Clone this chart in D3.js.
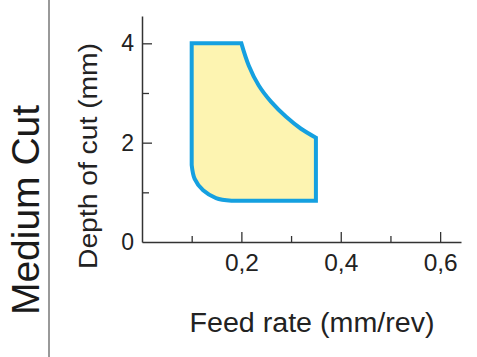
<!DOCTYPE html>
<html>
<head>
<meta charset="utf-8">
<script src="https://cdn.jsdelivr.net/npm/d3@7"></script>
<style>
  html, body { margin: 0; padding: 0; background: #fff; }
  svg { display: block; font-family: "Liberation Sans", Arial, sans-serif; }
</style>
</head>
<body>
<svg id="chart" width="477" height="357"></svg>
<script>
// ---- data ----
const xTickMajor = [0.2, 0.4, 0.6];
const xTickMinor = [0.1, 0.3, 0.5];
const xTickLabels = ["0,2", "0,4", "0,6"];
const yTickMajor = [0, 2, 4];
const yTickMinor = [1, 3];
const yTickLabels = ["0", "2", "4"];

// working-range boundary (feed mm/rev, depth mm)
const topFeed = [0.1, 0.2];
const topDepth = [4, 4];
const curveFeed = [0.2, 0.215, 0.235, 0.26, 0.29, 0.32, 0.35];
const curveDepth = [4, 3.55, 3.15, 2.82, 2.52, 2.28, 2.1];
const rightFeed = [0.35, 0.35, 0.18];
const rightDepth = [2.1, 0.83, 0.83];
const cornerFeed = [0.18, 0.149, 0.123, 0.106, 0.1];
const cornerDepth = [0.83, 0.885, 1.04, 1.27, 1.55];

const title = "Medium Cut";
const xTitle = "Feed rate (mm/rev)";
const yTitle = "Depth of cut (mm)";

// ---- drawing ----
const svg = d3.select("#chart");
const x = d3.scaleLinear().domain([0, 0.642]).range([142, 461]);
const y = d3.scaleLinear().domain([0, 4.55]).range([242, 16]);

const axisColor = "#333";
const textColor = "#222";

// separator line
svg.append("line").attr("x1", 49).attr("x2", 49).attr("y1", 0).attr("y2", 357)
  .attr("stroke", "#555").attr("stroke-width", 1.2);

// title
svg.append("text")
  .attr("transform", "translate(39,210) rotate(-90)")
  .attr("text-anchor", "middle")
  .attr("font-size", 39).attr("fill", "#1a1a1a")
  .text(title);

// region shape
const zip = (a, b) => a.map((v, i) => [x(v), y(b[i])]);
const lin = d3.line();
const cr = d3.line().curve(d3.curveCatmullRom.alpha(0.5));
const parts = [
  lin(zip(topFeed, topDepth)),
  cr(zip(curveFeed, curveDepth)),
  lin(zip(rightFeed, rightDepth)),
  cr(zip(cornerFeed, cornerDepth))
];
const d = parts.map((p, i) => i === 0 ? p : p.replace(/^M/, "L")).join("") + "Z";
svg.append("path").attr("d", d)
  .attr("fill", "#fdf4b1")
  .attr("stroke", "#15a0e0")
  .attr("stroke-width", 4)
  .attr("stroke-linejoin", "miter");

// axes
const gx = svg.append("g").attr("transform", `translate(0,${y(0)})`);
gx.call(d3.axisBottom(x).tickValues(xTickMajor).tickSize(-10).tickSizeOuter(0)
  .tickFormat((v, i) => xTickLabels[i]));
gx.call(g => g.selectAll(".tick text").attr("y", 13).attr("dy", "0.71em"));
const gxMinor = svg.append("g").attr("transform", `translate(0,${y(0)})`);
gxMinor.call(d3.axisBottom(x).tickValues(xTickMinor).tickSize(-6).tickSizeOuter(0).tickFormat(""));
gxMinor.select(".domain").remove();

const gy = svg.append("g").attr("transform", `translate(${x(0)},0)`);
gy.call(d3.axisLeft(y).tickValues(yTickMajor).tickSize(-10).tickSizeOuter(0)
  .tickFormat((v, i) => yTickLabels[i]));
gy.call(g => g.selectAll(".tick text").attr("x", -8));
const gyMinor = svg.append("g").attr("transform", `translate(${x(0)},0)`);
gyMinor.call(d3.axisLeft(y).tickValues(yTickMinor).tickSize(-7).tickSizeOuter(0).tickFormat(""));
gyMinor.select(".domain").remove();

svg.selectAll(".domain").attr("stroke", axisColor).attr("stroke-width", 1.5);
svg.selectAll(".tick line").attr("stroke", axisColor).attr("stroke-width", 1.3);
svg.selectAll(".tick text").attr("font-size", 23).attr("fill", textColor)
  .attr("font-family", "'Liberation Sans', Arial, sans-serif");
gx.selectAll(".tick text").attr("textLength", 34).attr("lengthAdjust", "spacingAndGlyphs");
// hide y tick line at 0 (coincides with x axis)
gy.selectAll(".tick").filter(v => v === 0).select("line").remove();

// axis titles
svg.append("text")
  .attr("x", 312).attr("y", 332)
  .attr("text-anchor", "middle")
  .attr("font-size", 27).attr("fill", textColor)
  .attr("textLength", 245).attr("lengthAdjust", "spacingAndGlyphs")
  .text(xTitle);
svg.append("text")
  .attr("transform", "translate(97,156) rotate(-90)")
  .attr("text-anchor", "middle")
  .attr("font-size", 25).attr("fill", textColor)
  .attr("textLength", 226).attr("lengthAdjust", "spacingAndGlyphs")
  .text(yTitle);
</script>
</body>
</html>
